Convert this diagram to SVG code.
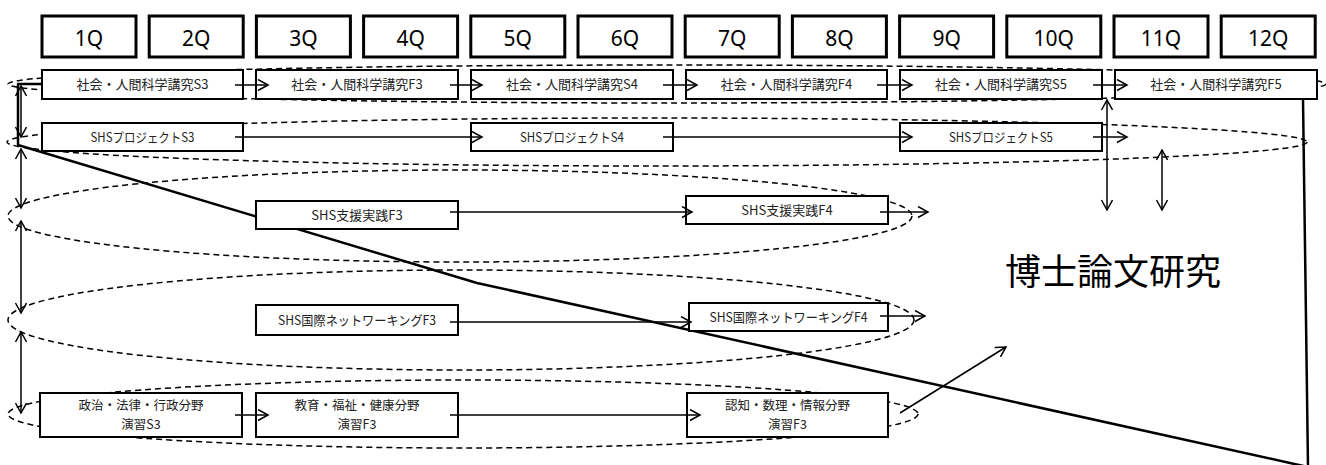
<svg xmlns="http://www.w3.org/2000/svg" width="1326" height="465" viewBox="0 0 1326 465">
<defs>
<style>
.hdr rect{fill:#fff;stroke:#000;stroke-width:3}
.hdr text{font-family:"Noto Sans","Noto Sans CJK JP",sans-serif;font-size:21px;fill:#000;text-anchor:middle}
.node rect{fill:#fff;stroke:#000;stroke-width:2}
.node text{font-family:"Noto Sans CJK JP","Noto Sans",sans-serif;font-size:13px;fill:#222;text-anchor:middle}
.node text.two{font-size:12.5px}
.grp{fill:none;stroke:#000;stroke-width:1.5;stroke-dasharray:6 4}
.edge{fill:none;stroke:#000;stroke-width:1.5}
.arr{marker-end:url(#ah)}
.arr2{marker-end:url(#ah);marker-start:url(#ahs)}
.outline{fill:none;stroke:#000;stroke-width:2.5;stroke-linejoin:round}
.big{font-family:"Noto Sans CJK JP",sans-serif;font-size:36px;fill:#000;text-anchor:middle}
</style>
<marker id="ah" markerUnits="userSpaceOnUse" markerWidth="14" markerHeight="14" refX="11" refY="6" orient="auto">
<path d="M1,0.5 L11,6 L1,11.5" fill="none" stroke="#000" stroke-width="1.5"/>
</marker>
<marker id="ahs" markerUnits="userSpaceOnUse" markerWidth="14" markerHeight="14" refX="1" refY="6" orient="auto">
<path d="M11,0.5 L1,6 L11,11.5" fill="none" stroke="#000" stroke-width="1.5"/>
</marker>
</defs>

<g id="groups">
<ellipse class="grp" cx="667" cy="84" rx="659" ry="19"/>
<ellipse class="grp" cx="657" cy="142" rx="650" ry="24"/>
<ellipse class="grp" cx="460" cy="216" rx="452" ry="46"/>
<ellipse class="grp" cx="461" cy="320" rx="453" ry="50"/>
<ellipse class="grp" cx="463" cy="414" rx="455" ry="34"/>
</g>

<polyline id="scope" class="outline" points="42,84 18,84 18,145 477,283 1308,467 1303,99"/>

<g id="header" class="hdr">
<g id="q1"><rect x="42" y="16" width="94" height="41"/><text x="89" y="46">1Q</text></g>
<g id="q2"><rect x="149.2" y="16" width="94" height="41"/><text x="196.2" y="46">2Q</text></g>
<g id="q3"><rect x="256.4" y="16" width="94" height="41"/><text x="303.4" y="46">3Q</text></g>
<g id="q4"><rect x="363.6" y="16" width="94" height="41"/><text x="410.6" y="46">4Q</text></g>
<g id="q5"><rect x="470.8" y="16" width="94" height="41"/><text x="517.8" y="46">5Q</text></g>
<g id="q6"><rect x="578" y="16" width="94" height="41"/><text x="625" y="46">6Q</text></g>
<g id="q7"><rect x="685.2" y="16" width="94" height="41"/><text x="732.2" y="46">7Q</text></g>
<g id="q8"><rect x="792.4" y="16" width="94" height="41"/><text x="839.4" y="46">8Q</text></g>
<g id="q9"><rect x="899.6" y="16" width="94" height="41"/><text x="946.6" y="46">9Q</text></g>
<g id="q10"><rect x="1006.8" y="16" width="94" height="41"/><text x="1053.8" y="46">10Q</text></g>
<g id="q11"><rect x="1114" y="16" width="94" height="41"/><text x="1161" y="46">11Q</text></g>
<g id="q12"><rect x="1221.2" y="16" width="94" height="41"/><text x="1268.2" y="46">12Q</text></g>
</g>

<g id="n-s3" class="node"><rect x="42" y="70" width="201" height="29"/><text x="142.5" y="89">社会・人間科学講究S3</text></g>
<g id="n-f3" class="node"><rect x="256" y="70" width="202" height="29"/><text x="357" y="89">社会・人間科学講究F3</text></g>
<g id="n-s4" class="node"><rect x="471" y="70" width="202" height="29"/><text x="572" y="89">社会・人間科学講究S4</text></g>
<g id="n-f4" class="node"><rect x="686" y="70" width="201" height="29"/><text x="786.5" y="89">社会・人間科学講究F4</text></g>
<g id="n-s5" class="node"><rect x="900" y="70" width="202" height="29"/><text x="1001" y="89">社会・人間科学講究S5</text></g>
<g id="n-f5" class="node"><rect x="1115" y="70" width="202" height="29"/><text x="1216" y="89">社会・人間科学講究F5</text></g>

<g id="n-ps3" class="node"><rect x="42" y="123" width="201" height="28"/><text x="142.5" y="141.5" textLength="104" lengthAdjust="spacingAndGlyphs">SHSプロジェクトS3</text></g>
<g id="n-ps4" class="node"><rect x="471" y="123" width="202" height="28"/><text x="572" y="141.5" textLength="104" lengthAdjust="spacingAndGlyphs">SHSプロジェクトS4</text></g>
<g id="n-ps5" class="node"><rect x="900" y="123" width="202" height="28"/><text x="1001" y="141.5" textLength="104" lengthAdjust="spacingAndGlyphs">SHSプロジェクトS5</text></g>

<g id="n-sf3" class="node"><rect x="256" y="201" width="202" height="28"/><text x="357" y="219.5">SHS支援実践F3</text></g>
<g id="n-sf4" class="node"><rect x="686" y="196" width="202" height="28"/><text x="787" y="214.5">SHS支援実践F4</text></g>

<g id="n-nf3" class="node"><rect x="256" y="305" width="202" height="30"/><text x="357" y="324.5" textLength="158" lengthAdjust="spacingAndGlyphs">SHS国際ネットワーキングF3</text></g>
<g id="n-nf4" class="node"><rect x="689" y="303" width="199" height="28"/><text x="788.5" y="321.5" textLength="158" lengthAdjust="spacingAndGlyphs">SHS国際ネットワーキングF4</text></g>

<g id="n-e1" class="node"><rect x="40" y="393" width="202" height="44"/><text class="two" x="141" y="410">政治・法律・行政分野</text><text class="two" x="141" y="428.5">演習S3</text></g>
<g id="n-e2" class="node"><rect x="256" y="393" width="202" height="44"/><text class="two" x="357" y="410">教育・福祉・健康分野</text><text class="two" x="357" y="428.5">演習F3</text></g>
<g id="n-e3" class="node"><rect x="687" y="393" width="201" height="44"/><text class="two" x="787.5" y="410">認知・数理・情報分野</text><text class="two" x="787.5" y="428.5">演習F3</text></g>

<text id="thesis" class="big" x="1113" y="285">博士論文研究</text>

<g id="connectors">
<line class="edge arr" x1="235" y1="85" x2="268" y2="85"/>
<line class="edge arr" x1="450" y1="85" x2="482" y2="85"/>
<line class="edge arr" x1="663" y1="85" x2="697" y2="85"/>
<line class="edge arr" x1="877" y1="85" x2="912" y2="85"/>
<line class="edge arr" x1="1093" y1="85" x2="1127" y2="85"/>
<line class="edge arr" x1="235" y1="137" x2="482" y2="137"/>
<line class="edge arr" x1="663" y1="137" x2="912" y2="137"/>
<line class="edge arr" x1="1093" y1="137" x2="1127" y2="137"/>
<line class="edge arr" x1="450" y1="212" x2="692" y2="212"/>
<line class="edge arr" x1="880" y1="212" x2="928" y2="212"/>
<line class="edge arr" x1="450" y1="322" x2="691" y2="322"/>
<line class="edge arr" x1="880" y1="316" x2="925" y2="316"/>
<line class="edge arr" x1="235" y1="415" x2="268" y2="415"/>
<line class="edge arr" x1="450" y1="415" x2="700" y2="415"/>
<line class="edge arr" x1="900" y1="413" x2="1006" y2="347"/>
<line class="edge arr2" x1="21" y1="86" x2="21" y2="137"/>
<line class="edge arr2" x1="21" y1="149" x2="21" y2="208"/>
<line class="edge arr2" x1="21" y1="221" x2="21" y2="313"/>
<line class="edge arr2" x1="21" y1="332" x2="21" y2="413"/>
<line class="edge arr2" x1="1107" y1="100" x2="1107" y2="210"/>
<line class="edge arr2" x1="1162" y1="150" x2="1162" y2="210"/>
</g>
</svg>
